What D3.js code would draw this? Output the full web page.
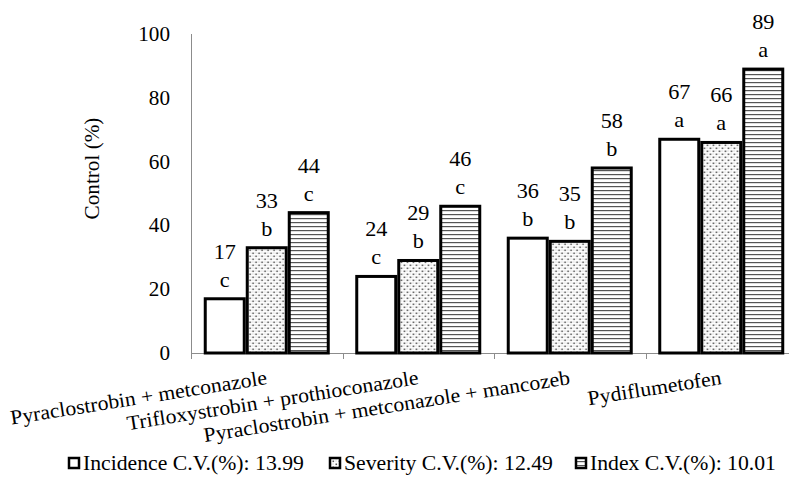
<!DOCTYPE html>
<html>
<head>
<meta charset="utf-8">
<script src="https://cdn.jsdelivr.net/npm/d3@7/dist/d3.min.js"></script>
</head>
<body style="margin:0;background:#fff">
<svg id="fig" width="789" height="497"></svg>
<script>
// Fungicide treatments (x categories)
const treatments = [
  "Pyraclostrobin + metconazole",
  "Trifloxystrobin + prothioconazole",
  "Pyraclostrobin + metconazole + mancozeb",
  "Pydiflumetofen"
];
// Series
const seriesKeys = ["Incidence", "Severity", "Index"];
const seriesLegend = ["Incidence C.V.(%): 13.99", "Severity C.V.(%): 12.49", "Index C.V.(%): 10.01"];
// Control (%) per series, in treatment order
const incidence = [17, 24, 36, 67];
const severity = [33, 29, 35, 66];
const indexVals = [44, 46, 58, 89];
// Mean-separation letters
const incidenceLetters = ["c", "c", "b", "a"];
const severityLetters = ["b", "b", "b", "a"];
const indexLetters = ["c", "c", "b", "a"];
const yTicks = [0, 20, 40, 60, 80, 100];

const values = [incidence, severity, indexVals];
const letters = [incidenceLetters, severityLetters, indexLetters];

const svg = d3.select("#fig");
const defs = svg.append("defs");

// Serif text placed through a group transform: base face at 24px, scaled to size
const BASE = 24;
function label(parent, x, y, str, size, anchor, rot = 0, dy = null) {
  const s = size / BASE;
  const g = parent.append("g")
    .attr("transform", `translate(${x},${y}) rotate(${rot}) scale(${s * 1.06},${s})`);
  const t = g.append("text")
    .attr("x", 0).attr("y", 0)
    .attr("text-anchor", anchor)
    .attr("font-size", BASE)
    .attr("font-family", "Liberation Serif")
    .style("font-family", "'Liberation Serif'")
    .attr("fill", "#000")
    .text(str);
  if (dy) t.attr("dy", dy);
  return t;
}

// Stipple fill for Severity
const dots = defs.append("pattern").attr("id", "pat-dots")
  .attr("patternUnits", "userSpaceOnUse").attr("width", 6).attr("height", 6);
dots.append("rect").attr("width", 6).attr("height", 6).attr("fill", "#fff");
[[0.5, 0.5], [3.5, 3.5]].forEach(([cx, cy]) => {
  dots.append("rect").attr("x", cx).attr("y", cy).attr("width", 1.6).attr("height", 1.6).attr("fill", "#555");
});
dots.append("rect").attr("x", 3.5).attr("y", 0.5).attr("width", 1).attr("height", 1).attr("fill", "#bbb");
dots.append("rect").attr("x", 0.5).attr("y", 3.5).attr("width", 1).attr("height", 1).attr("fill", "#bbb");

// Horizontal hatch for Index
const lines = defs.append("pattern").attr("id", "pat-lines")
  .attr("patternUnits", "userSpaceOnUse").attr("width", 8).attr("height", 4);
lines.append("rect").attr("width", 8).attr("height", 4).attr("fill", "#fff");
lines.append("rect").attr("y", 2).attr("width", 8).attr("height", 1.2).attr("fill", "#555");

const fills = ["#fff", "url(#pat-dots)", "url(#pat-lines)"];

// Scales
const x0 = d3.scaleBand().domain(treatments).range([191, 797]).padding(0);
const groupW = 126;
const x1 = d3.scaleBand().domain(seriesKeys).range([0, groupW]).padding(0);
const y = d3.scaleLinear().domain([0, 100]).range([353, 34]);

// Axes
const axisColor = "#8c8c8c";
svg.append("line").attr("x1", 191.5).attr("x2", 191.5).attr("y1", y(100)).attr("y2", y(0))
  .attr("stroke", axisColor).attr("stroke-width", 1);
svg.append("line").attr("x1", 191).attr("x2", 797).attr("y1", y(0) + 0.5).attr("y2", y(0) + 0.5)
  .attr("stroke", axisColor).attr("stroke-width", 1);
// category boundary ticks
treatments.forEach(t => {
  const xb = Math.round(x0(t)) + 0.5;
  svg.append("line").attr("x1", xb).attr("x2", xb).attr("y1", y(0)).attr("y2", y(0) + 6)
    .attr("stroke", axisColor).attr("stroke-width", 1);
});

// Y tick labels
const yLab = svg.append("g");
yTicks.forEach(v => label(yLab, 170, y(v), v, 20, "end", 0, "0.35em"));

// Y title
label(svg, 99, (y(0) + y(100)) / 2 - 25, "Control (%)", 20, "middle", -90);

// Bars and their value / letter labels
const groups = svg.append("g").selectAll("g").data(treatments).join("g")
  .attr("transform", t => `translate(${x0(t) + (x0.bandwidth() - groupW) / 2},0)`);

seriesKeys.forEach((key, si) => {
  groups.append("rect")
    .attr("x", x1(key) + 1.5)
    .attr("y", (t, i) => y(values[si][i]))
    .attr("width", x1.bandwidth() - 3)
    .attr("height", (t, i) => y(0) - y(values[si][i]))
    .attr("fill", fills[si])
    .attr("stroke", "#000").attr("stroke-width", 3);

  groups.each(function (t, i) {
    const g = d3.select(this);
    const cx = x1(key) + x1.bandwidth() / 2;
    label(g, cx, y(values[si][i]) - 40, values[si][i], 21, "middle");
    label(g, cx, y(values[si][i]) - 12, letters[si][i], 21, "middle");
  });
});

// Category labels, slanted
const xLab = svg.append("g");
treatments.forEach(t => label(xLab, x0(t) + x0.bandwidth() / 2 + 1, y(0) + 31, t, 20.5, "end", -9));

// Legend
const legendX = [68, 329, 575];
seriesKeys.forEach((k, i) => {
  const g = svg.append("g").attr("transform", `translate(${legendX[i]},463)`);
  g.append("rect").attr("x", 1).attr("y", -5).attr("width", 10).attr("height", 10)
    .attr("fill", fills[i]).attr("stroke", "#000").attr("stroke-width", 2.5);
  label(g, 15, 0, seriesLegend[i], 20.5, "start", 0, "0.35em");
});
</script>
</body>
</html>
